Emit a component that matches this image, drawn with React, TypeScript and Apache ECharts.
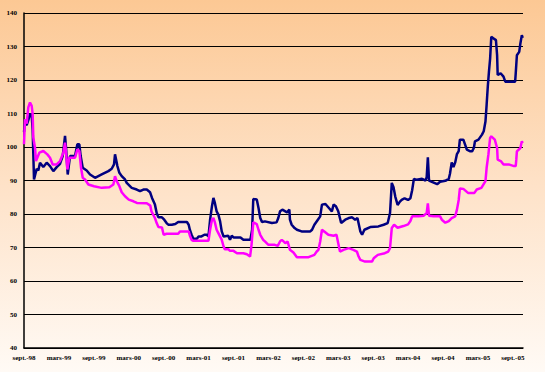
import React, { useEffect, useRef } from "react";
import * as echarts from "echarts";

// x values are months elapsed since September 1998
const tickLabels = [
  "sept.-98", "mars-99", "sept.-99", "mars-00", "sept.-00", "mars-01", "sept.-01", "mars-02",
  "sept.-02", "mars-03", "sept.-03", "mars-04", "sept.-04", "mars-05", "sept.-05",
];

const blueMonths = [
  0, 0.17, 0.46, 0.74, 1.03, 1.32, 1.49, 1.72, 2.18, 2.46, 2.75, 3.32, 3.9, 4.47, 5.04, 5.62, 6.19, 6.65, 7.05, 7.22,
  7.51, 7.91, 8.77, 9.17, 9.51, 9.74, 10.09, 10.77, 11.35, 12.21, 13.35, 14.5, 15.07, 15.47, 15.64, 16.05, 16.39, 16.79, 17.36, 17.65,
  18.51, 19.37, 19.94, 20.52, 21.1, 21.66, 22.0, 22.5, 22.8, 23.1, 23.7, 24.1, 24.5, 24.8, 25.4, 26.0, 26.5, 28.0, 28.3, 28.5,
  28.8, 29.1, 29.7, 30.0, 30.5, 31.0, 31.4, 31.7, 31.98, 32.3, 32.55, 32.8, 33.1, 33.4, 33.7, 33.98, 34.3, 35.1, 35.4, 35.7,
  36.0, 37.2, 37.7, 38.9, 39.2, 39.4, 40.0, 40.3, 40.6, 40.9, 41.4, 42.6, 43.4, 43.7, 44.0, 44.4, 45.2, 45.6, 45.7, 46.0,
  46.5, 46.9, 47.7, 49.2, 49.5, 49.9, 50.5, 50.9, 51.2, 51.8, 52.4, 52.9, 53.2, 53.6, 54.0, 54.5, 55.2, 55.8, 56.4, 56.9,
  57.3, 57.8, 58.1, 58.5, 59.5, 60.9, 61.8, 62.5, 62.9, 63.2, 63.5, 63.8, 64.2, 64.6, 64.9, 65.4, 66.0, 66.4, 66.7, 67.0,
  67.5, 68.4, 69.0, 69.2, 69.4, 69.6, 70.1, 71.0, 71.5, 72.4, 73.0, 73.2, 73.5, 73.8, 74.1, 74.4, 74.7, 74.9, 75.5, 75.8,
  76.1, 76.7, 77.0, 77.3, 77.5, 78.1, 78.7, 79.0, 79.3, 79.5, 79.7, 79.9, 80.1, 80.3, 80.7, 81.1, 81.3, 81.4, 81.9, 82.4,
  82.7, 84.4, 84.5, 84.7, 85.1, 85.3, 85.55, 85.7,
];
const blueValues = [
  104.5, 107, 106.5, 108, 109.8, 109.5, 105, 90.3, 93.5, 93, 95.3, 94, 95.3, 94.3, 92.8, 94, 95, 97.3, 103.3, 99.8,
  91.8, 97.3, 97.3, 100.8, 100.8, 97.3, 93.8, 93, 91.8, 90.8, 91.8, 92.8, 93.5, 94.8, 97.8, 94.3, 92.3, 91.3, 90.3, 89.3,
  87.8, 87.3, 86.8, 87.3, 87.3, 86.5, 84.8, 82.8, 80.3, 79, 79, 78.3, 77.3, 76.8, 76.8, 77, 77.6, 77.6, 76.8, 75.3,
  73.8, 72.6, 72.6, 73.3, 73.3, 73.8, 73.8, 73.3, 78.3, 82.3, 84.8, 83.3, 80.8, 79.8, 77.8, 74.8, 73.3, 73.5, 72.3, 73.5,
  73, 73, 72.3, 72.3, 75.3, 84.5, 84.3, 81.8, 78.8, 77.6, 77.8, 77.3, 77.5, 78.8, 80.8, 81.3, 80.5, 81.3, 78.3, 76.8,
  75.8, 75.3, 74.8, 74.8, 75.3, 76.8, 78.3, 79.3, 82.8, 83, 81.8, 80.8, 82.8, 82.3, 80.8, 77.3, 78.3, 78.8, 79, 78.3,
  78.8, 74.8, 73.8, 75.3, 76.1, 76.3, 76.8, 77.3, 80.3, 89.3, 88, 85.2, 82.7, 83.7, 84.2, 84.7, 84.2, 84.7, 87.1, 90.5,
  90.2, 90.5, 90, 91, 96.9, 90, 89.6, 88.9, 89.6, 89.9, 90.5, 92, 95.4, 94, 95.4, 97.9, 98.8, 102.2, 102.2, 100.7,
  99.2, 98.7, 98.7, 99.7, 101.7, 102.2, 103.7, 104.7, 107.6, 112.6, 118, 122.5, 126.4, 132.9, 132.4, 131.9, 127.4, 121.5, 122, 121,
  119.5, 119.5, 122, 127.4, 128.4, 130.9, 133.4, 132.6,
];

const pinkMonths = [
  0, 0.17, 0.46, 0.74, 1.03, 1.32, 1.49, 1.6, 1.89, 2.06, 2.29, 2.64, 3.32, 4.01, 4.47, 4.93, 5.62, 6.19, 6.76, 7.05,
  7.22, 7.45, 7.79, 8.77, 9.17, 9.51, 9.8, 10.09, 10.49, 11.06, 12.03, 13.35, 14.67, 15.36, 15.64, 15.93, 16.39, 16.79, 17.36, 18.0,
  18.8, 19.4, 21.1, 21.7, 21.9, 22.5, 22.8, 23.1, 23.7, 24.0, 24.5, 26.5, 26.8, 28.3, 28.5, 28.8, 29.1, 31.7, 31.98, 32.3,
  32.55, 32.8, 33.1, 33.4, 33.98, 34.3, 34.5, 35.1, 35.4, 36.0, 36.6, 37.7, 38.3, 38.85, 39.1, 39.4, 40.0, 40.3, 40.6, 41.1,
  41.4, 42.0, 43.1, 43.6, 44.0, 44.3, 44.6, 44.9, 45.3, 45.7, 46.3, 46.9, 48.9, 49.9, 50.3, 50.6, 50.9, 51.2, 51.6, 52.3,
  53.2, 53.7, 54.0, 54.3, 54.9, 55.8, 56.6, 57.2, 57.5, 57.8, 58.6, 59.8, 60.1, 60.8, 62.0, 62.6, 62.9, 63.2, 63.6, 64.2,
  65.2, 66.0, 66.4, 66.7, 67.8, 68.7, 69.2, 69.4, 69.6, 70.4, 71.5, 71.8, 72.4, 73.0, 73.5, 74.1, 74.4, 74.7, 74.9, 75.5,
  76.3, 77.4, 77.8, 78.6, 79.3, 79.5, 79.8, 80.1, 80.3, 80.9, 81.3, 81.4, 82.0, 82.4, 83.3, 84.2, 84.5, 84.6, 84.7, 85.3,
  85.55, 85.7,
];
const pinkValues = [
  100.8, 108.3, 107, 111.8, 113.3, 112.3, 109.8, 102.8, 99.8, 95.8, 96.8, 98.3, 98.8, 97.8, 96.8, 94.8, 94.8, 95.8, 98.3, 101.3,
  98.5, 93.3, 96.8, 96.8, 99.3, 98.8, 93.8, 90.8, 90.3, 88.8, 88.3, 87.8, 88, 88.8, 91.3, 89.8, 88.3, 86.5, 85.3, 84.3,
  83.8, 83.3, 83.2, 82.5, 80.8, 78.8, 77.3, 76.1, 76, 73.8, 74.1, 74.1, 74.8, 74.8, 73.6, 72.3, 72, 72, 75.3, 78.3,
  78.8, 77.5, 75.3, 74.3, 72.3, 70.3, 69.5, 69.5, 69, 69, 68.3, 68.3, 68, 67.3, 70.8, 77.5, 77, 75.3, 73.8, 72.3,
  71.8, 70.8, 70.8, 70.5, 71.8, 72.3, 71.8, 71.3, 71.8, 69.3, 68.5, 67.1, 67.1, 67.8, 68.8, 69.3, 71.8, 75.3, 74.8, 73.8,
  73.5, 73.8, 71.3, 68.8, 69.3, 69.8, 69.3, 68.8, 67.3, 66.3, 65.8, 65.8, 66.8, 67.8, 68.3, 68.8, 69.8, 75.8, 76.8, 75.9,
  76.4, 76.9, 77.9, 79.3, 79.3, 79.5, 80.3, 83.2, 79.5, 79.3, 79.3, 78.3, 77.4, 77.9, 78.8, 79.3, 81.3, 84.2, 87.6, 87.5,
  86.3, 86.3, 87.3, 87.8, 89.8, 93.8, 97.7, 102.7, 103.2, 102.2, 99.7, 96.2, 95.7, 94.8, 94.8, 94.3, 94.3, 96.3, 98.7, 99.7,
  101.7, 101.2,
];

const zip = (xs: number[], ys: number[]) => xs.map((x, i) => [x, ys[i]]);

const labelFont = {
  fontFamily: "Liberation Serif, Times New Roman, serif",
  fontWeight: "bold" as const,
  fontSize: 7,
  color: "#000",
};

export default function App() {
  const ref = useRef<HTMLDivElement>(null);
  useEffect(() => {
    document.body.style.margin = "0";
    const chart = echarts.init(ref.current!, null, { renderer: "svg" });
    chart.setOption({
      animation: false,
      backgroundColor: new echarts.graphic.LinearGradient(0, 0, 0, 1, [
        { offset: 0, color: "#fcc894" },
        { offset: 0.5, color: "#fee2c8" },
        { offset: 1, color: "#fffaf5" },
      ]),
      grid: { left: 24, right: 22, top: 13, bottom: 24, containLabel: false },
      xAxis: {
        type: "value",
        min: 0,
        max: 85.75,
        interval: 6,
        axisLine: { show: true, lineStyle: { color: "#000", width: 1.5 } },
        axisTick: { show: false },
        splitLine: { show: false },
        axisLabel: {
          ...labelFont,
          margin: 6,
          showMaxLabel: false,
          formatter: (v: number) => {
            const i = v / 6;
            return Number.isInteger(i) && tickLabels[i] ? tickLabels[i] : "";
          },
        },
      },
      yAxis: {
        type: "value",
        min: 40,
        max: 140,
        interval: 10,
        axisLine: { show: true, lineStyle: { color: "#000", width: 1.5 } },
        axisTick: { show: false },
        splitLine: { show: true, lineStyle: { color: "#000", width: 1.2 } },
        axisLabel: { ...labelFont, margin: 7 },
      },
      series: [
        {
          type: "line",
          data: zip(blueMonths, blueValues),
          showSymbol: false,
          lineStyle: { color: "#000080", width: 2.5 },
        },
        {
          type: "line",
          data: zip(pinkMonths, pinkValues),
          showSymbol: false,
          lineStyle: { color: "#ff00ff", width: 2.5 },
        },
      ],
    });
    return () => chart.dispose();
  }, []);
  return <div ref={ref} style={{ position: "absolute", left: 0, top: 0, width: 545, height: 372 }} />;
}
